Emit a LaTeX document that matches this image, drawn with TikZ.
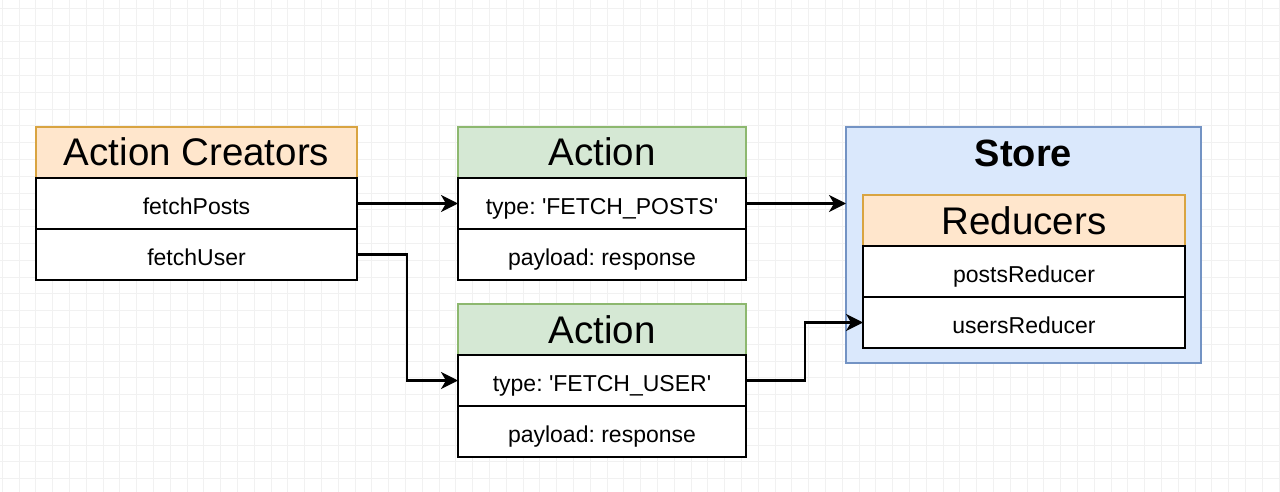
\documentclass[tikz,border=0pt]{standalone}
\usepackage{fontspec}
\setmainfont{Liberation Sans}
\usepackage{xcolor}
\usetikzlibrary{arrows.meta,positioning}

\definecolor{peach}{HTML}{FFE6CC}
\definecolor{peachline}{HTML}{D9A441}
\definecolor{sage}{HTML}{D5E8D4}
\definecolor{sageline}{HTML}{8DB86F}
\definecolor{skyfill}{HTML}{DAE8FC}
\definecolor{skyline}{HTML}{7393C4}
\definecolor{gridline}{HTML}{F1F1F1}

\frenchspacing
\newcommand{\sq}{\textquotesingle}

\begin{document}
\begin{tikzpicture}[x=1pt,y=-1pt,node distance=0pt,
    >={Stealth[length=17pt,width=17pt,inset=5pt]},
    flow/.style={->,line width=2.6pt},
    rowbox/.style={rectangle, draw=black, fill=white, line width=2.8pt, outer sep=0pt, inner sep=0pt,
      minimum height=51pt, text height=21.6pt, text depth=0pt, font=\fontsize{23}{25}\selectfont},
    headbox/.style={rectangle, line width=1.6pt, outer sep=0pt, inner sep=0pt,
      minimum height=51pt, text height=27pt, text depth=0pt, font=\fontsize{38.5}{40}\selectfont},
    creatorhead/.style={headbox, draw=peachline, fill=peach, minimum width=321pt},
    actionhead/.style={headbox, draw=sageline, fill=sage, minimum width=288pt},
    reducerhead/.style={headbox, draw=peachline, fill=peach, minimum width=322pt}]
  \useasboundingbox (0,0) rectangle (1280,492);
  \fill[white] (0,0) rectangle (1280,492);

  % background grid
  \foreach \gx in {2.2,19,...,1280}
    \draw[gridline, line width=0.8pt] (\gx,0) -- (\gx,492);
  \foreach \gy in {8.2,25,...,492}
    \draw[gridline, line width=0.8pt] (0,\gy) -- (1280,\gy);

  % store
  \node[rectangle, draw=skyline, fill=skyfill, line width=2pt, outer sep=0pt,
        minimum width=355pt, minimum height=236pt, anchor=north west] (store) at (846,127) {};
  \node[anchor=base, font=\fontsize{38}{40}\selectfont\bfseries] (storetitle) at (1023.5,167) {Store};

  % action creators
  \node[creatorhead, anchor=north west] (creators) at (36,127) {Action Creators};
  \node[rowbox, minimum width=321pt, below=of creators] (fposts) {fetchPosts};
  \node[rowbox, minimum width=321pt, below=of fposts] (fuser) {fetchUser};

  % actions
  \node[actionhead, anchor=north west] (action1) at (458,127) {Action};
  \node[rowbox, minimum width=288pt, below=of action1] (a1type) {type: \sq FETCH\_POSTS\sq};
  \node[rowbox, minimum width=288pt, below=of a1type] (a1load) {payload: response};

  \node[actionhead, anchor=north west] (action2) at (458,304) {Action};
  \node[rowbox, minimum width=288pt, below=of action2] (a2type) {type: \sq FETCH\_USER\sq};
  \node[rowbox, minimum width=288pt, below=of a2type] (a2load) {payload: response};

  % reducers
  \node[reducerhead, anchor=north west] (reducers) at (863,195) {Reducers};
  \node[rowbox, minimum width=322pt, below=of reducers] (rposts) {postsReducer};
  \node[rowbox, minimum width=322pt, below=of rposts] (rusers) {usersReducer};

  % connectors
  \draw[flow] (fposts.east) -- (a1type.west);
  \draw[flow] (fuser.east) -- ++(50,0) |- (a2type.west);
  \draw[flow] (a1type.east) -- (a1type.east -| store.west);
  \draw[flow] (a2type.east) -- ++(59,0) |- (rusers.west);
\end{tikzpicture}
\end{document}
